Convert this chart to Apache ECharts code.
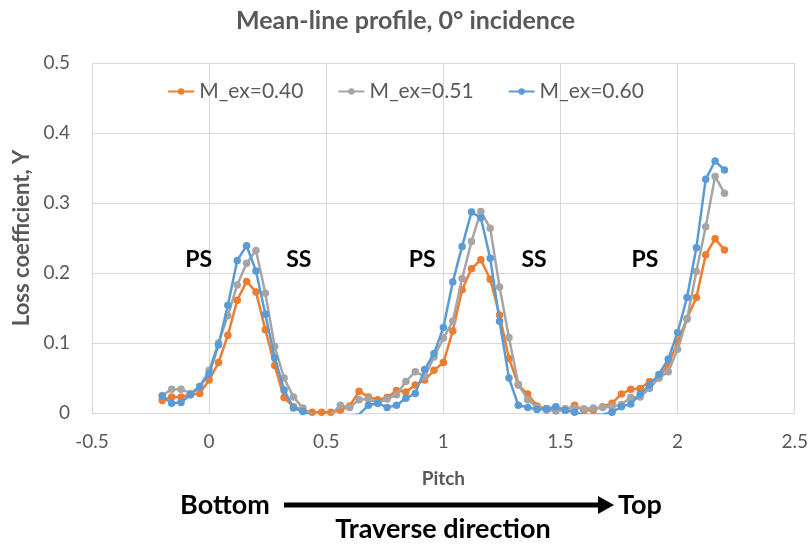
<!DOCTYPE html>
<html><head><meta charset="utf-8">
<script src="https://cdn.jsdelivr.net/npm/echarts@6/dist/echarts.min.js"></script>
<style>html,body{margin:0;padding:0;background:#fff}#c{width:811px;height:546px}</style>
</head><body><div id="c"></div>
<script>
const pitch = [-0.2,-0.16,-0.12,-0.08,-0.04,0,0.04,0.08,0.12,0.16,0.2,0.24,0.28,0.32,0.36,0.4,0.44,0.48,0.52,0.56,0.6,0.64,0.68,0.72,0.76,0.8,0.84,0.88,0.92,0.96,1.0,1.04,1.08,1.12,1.16,1.2,1.24,1.28,1.32,1.36,1.4,1.44,1.48,1.52,1.56,1.6,1.64,1.68,1.72,1.76,1.8,1.84,1.88,1.92,1.96,2.0,2.04,2.08,2.12,2.16,2.2];
const seriesNames = ['M_ex=0.40','M_ex=0.51','M_ex=0.60'];
const lossM040 = [0.018,0.023,0.023,0.026,0.028,0.047,0.072,0.111,0.161,0.188,0.173,0.119,0.068,0.022,0.009,0.004,0.001,0.001,0.001,0.004,0.010,0.031,0.023,0.019,0.022,0.032,0.030,0.040,0.047,0.061,0.072,0.117,0.176,0.206,0.219,0.191,0.140,0.078,0.040,0.027,0.010,0.006,0.004,0.004,0.011,0.004,0.004,0.009,0.014,0.027,0.034,0.035,0.045,0.050,0.069,0.102,0.135,0.165,0.226,0.249,0.233];
const lossM051 = [0.025,0.034,0.034,0.028,0.038,0.061,0.100,0.139,0.183,0.214,0.232,0.171,0.095,0.050,0.023,0.007,-0.003,-0.004,-0.002,0.011,0.008,0.019,0.020,0.014,0.020,0.026,0.045,0.059,0.052,0.080,0.107,0.131,0.192,0.245,0.288,0.264,0.180,0.108,0.041,0.019,0.008,0.004,0.003,0.006,0.007,0.006,0.007,0.008,0.009,0.012,0.022,0.023,0.035,0.050,0.059,0.091,0.134,0.202,0.266,0.338,0.314];
const lossM060 = [0.024,0.014,0.015,0.026,0.038,0.056,0.097,0.154,0.218,0.239,0.203,0.141,0.079,0.033,0.007,0.002,-0.004,-0.006,-0.006,-0.005,-0.004,-0.002,0.011,0.014,0.008,0.011,0.021,0.028,0.062,0.085,0.122,0.187,0.238,0.287,0.279,0.221,0.131,0.050,0.011,0.008,0.005,0.006,0.009,0.004,0.001,-0.003,-0.003,-0.002,0.001,0.009,0.013,0.027,0.040,0.055,0.077,0.115,0.165,0.236,0.334,0.360,0.347];
const xTicks = [-0.5,0,0.5,1,1.5,2,2.5];
const yTicks = [0,0.1,0.2,0.3,0.4,0.5];
const sideLabels = ['PS','SS','PS','SS','PS'];
const sideLabelPitch = [-0.045,0.383,0.91,1.387,1.86];
const sideLabelLoss = [0.219,0.219,0.219,0.219,0.219];

const colors = ['#ED7D31','#A5A5A5','#5B9BD5'];
const FONT = 'Lato, "Open Sans", sans-serif';
const allLoss = [lossM040, lossM051, lossM060];

const chart = echarts.init(document.getElementById('c'), null, {renderer:'canvas'});
const option = {
  animation: false,
  backgroundColor: '#fff',
  textStyle: {fontFamily: FONT},
  title: {
    text: 'Mean-line profile, 0° incidence',
    left: 'center', top: 3,
    textStyle: {fontFamily: FONT, fontSize: 25, fontWeight: 'bold', color: '#595959'}
  },
  legend: {
    data: seriesNames,
    top: 76, left: 'center',
    itemWidth: 26, itemHeight: 8, itemGap: 34,
    textStyle: {fontFamily: FONT, fontSize: 21, color: '#595959'}
  },
  grid: {left: 92, right: 15, top: 63, bottom: 133, containLabel: false},
  xAxis: {
    type: 'value', min: xTicks[0], max: xTicks[xTicks.length-1], interval: 0.5,
    name: 'Pitch', nameLocation: 'middle', nameGap: 56,
    nameTextStyle: {fontFamily: FONT, fontSize: 19, fontWeight: 'bold', color: '#595959'},
    axisLine: {show: true, lineStyle: {color: '#d9d9d9', width: 1}},
    axisTick: {show: false},
    splitLine: {show: true, lineStyle: {color: '#d9d9d9', width: 1}},
    axisLabel: {fontFamily: FONT, fontSize: 19, color: '#595959', margin: 19}
  },
  yAxis: {
    type: 'value', min: yTicks[0], max: yTicks[yTicks.length-1], interval: 0.1,
    name: 'Loss coefficient, Y', nameLocation: 'middle', nameGap: 59,
    nameTextStyle: {fontFamily: FONT, fontSize: 22, fontWeight: 'bold', color: '#595959'},
    axisLine: {show: false},
    axisTick: {show: false},
    splitLine: {show: true, lineStyle: {color: '#d9d9d9', width: 1}},
    axisLabel: {fontFamily: FONT, fontSize: 19, color: '#595959', margin: 22}
  },
  series: seriesNames.map((n, si) => ({
    name: n, type: 'line', clip: true,
    data: pitch.map((p, i) => [p, allLoss[si][i]]),
    symbol: 'circle', symbolSize: 7.5, showSymbol: true,
    lineStyle: {color: colors[si], width: 2.5},
    itemStyle: {color: colors[si]},
    emphasis: {disabled: true},
    z: 2 + si
  }))
};
chart.setOption(option);

const graphics = [];
sideLabels.forEach((t, i) => {
  const p = chart.convertToPixel({gridIndex: 0}, [sideLabelPitch[i], sideLabelLoss[i]]);
  graphics.push({type: 'text', x: p[0], y: p[1], z: 10,
    style: {text: t, fill: '#000', font: 'bold 23px ' + FONT, textAlign: 'center', textVerticalAlign: 'middle'}});
});
graphics.push(
  {type: 'text', x: 225, y: 505, style: {text: 'Bottom', fill: '#000', font: 'bold 27px ' + FONT, textAlign: 'center', textVerticalAlign: 'middle'}},
  {type: 'rect', shape: {x: 284, y: 502.5, width: 316, height: 5}, style: {fill: '#000'}},
  {type: 'polygon', shape: {points: [[598, 496], [614, 505], [598, 514]]}, style: {fill: '#000'}},
  {type: 'text', x: 640, y: 505, style: {text: 'Top', fill: '#000', font: 'bold 27px ' + FONT, textAlign: 'center', textVerticalAlign: 'middle'}},
  {type: 'text', x: 443, y: 529, style: {text: 'Traverse direction', fill: '#000', font: 'bold 27px ' + FONT, textAlign: 'center', textVerticalAlign: 'middle'}}
);
chart.setOption({graphic: graphics});
</script>
</body></html>
